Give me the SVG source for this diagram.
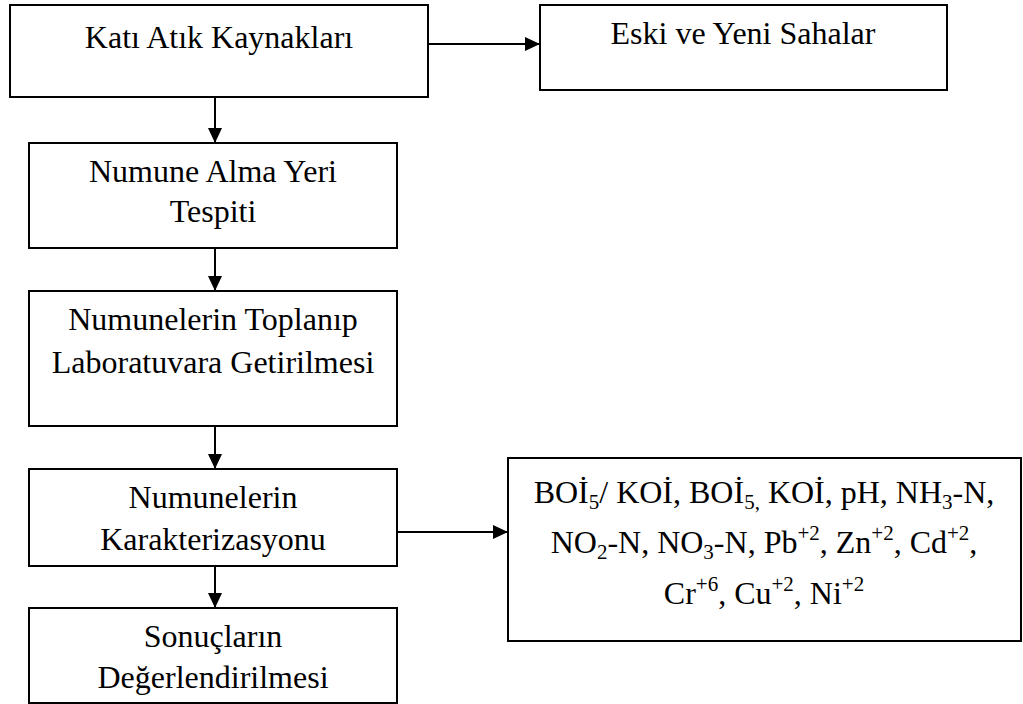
<svg xmlns="http://www.w3.org/2000/svg" width="1023" height="704" viewBox="0 0 1023 704">
<style>
.box{fill:#fff;stroke:#000;stroke-width:2}
.t{font-family:'Times New Roman','Liberation Serif',serif;font-size:32px;fill:#000;text-anchor:middle}
.s{font-size:21px}
.c{stroke:#000;stroke-width:2;fill:none;marker-end:url(#ah)}
</style>
<defs>
<marker id="ah" markerUnits="userSpaceOnUse" markerWidth="16" markerHeight="16" refX="15" refY="7" orient="auto">
<path d="M0,0 L15,7 L0,14 Z" fill="#000"/>
</marker>
</defs>
<rect width="1023" height="704" fill="#fff"/>
<g id="connectors">
<line class="c" x1="428" y1="44" x2="540" y2="44"/>
<line class="c" x1="215" y1="97" x2="215" y2="143"/>
<line class="c" x1="215" y1="248" x2="215" y2="291"/>
<line class="c" x1="215" y1="426" x2="215" y2="469"/>
<line class="c" x1="215" y1="566" x2="215" y2="608"/>
<line class="c" x1="397" y1="532" x2="508" y2="532"/>
</g>
<g id="n1" font-family="Liberation Serif, serif">
<rect class="box" x="10" y="5" width="418" height="92"/>
<text class="t" x="219" y="48" font-family="Liberation Serif, serif">Katı Atık Kaynakları</text>
</g>
<g id="n2">
<rect class="box" x="540" y="5" width="407" height="85"/>
<text class="t" x="743" y="44">Eski ve Yeni Sahalar</text>
</g>
<g id="n3">
<rect class="box" x="29" y="143" width="368" height="105"/>
<text class="t" x="213" y="182">Numune Alma Yeri</text>
<text class="t" x="213" y="222">Tespiti</text>
</g>
<g id="n4">
<rect class="box" x="29" y="291" width="368" height="135"/>
<text class="t" x="213" y="330">Numunelerin Toplanıp</text>
<text class="t" x="213" y="373">Laboratuvara Getirilmesi</text>
</g>
<g id="n5">
<rect class="box" x="29" y="469" width="368" height="97"/>
<text class="t" x="213" y="508">Numunelerin</text>
<text class="t" x="213" y="550">Karakterizasyonu</text>
</g>
<g id="n6">
<rect class="box" x="29" y="608" width="368" height="95"/>
<text class="t" x="213" y="647">Sonuçların</text>
<text class="t" x="213" y="688">Değerlendirilmesi</text>
</g>
<g id="n7">
<rect class="box" x="508" y="458" width="513" height="183"/>
<text class="t" x="764" y="503">BOİ<tspan class="s" dy="6">5</tspan><tspan dy="-6">/ KOİ, BOİ</tspan><tspan class="s" dy="6">5,</tspan><tspan dy="-6"> KOİ, pH, NH</tspan><tspan class="s" dy="6">3</tspan><tspan dy="-6">-N,</tspan></text>
<text class="t" x="764" y="553">NO<tspan class="s" dy="6">2</tspan><tspan dy="-6">-N, NO</tspan><tspan class="s" dy="6">3</tspan><tspan dy="-6">-N, Pb</tspan><tspan class="s" dy="-13">+2</tspan><tspan dy="13">, Zn</tspan><tspan class="s" dy="-13">+2</tspan><tspan dy="13">, Cd</tspan><tspan class="s" dy="-13">+2</tspan><tspan dy="13">,</tspan></text>
<text class="t" x="764" y="604">Cr<tspan class="s" dy="-13">+6</tspan><tspan dy="13">, Cu</tspan><tspan class="s" dy="-13">+2</tspan><tspan dy="13">, Ni</tspan><tspan class="s" dy="-13">+2</tspan></text>
</g>
</svg>
